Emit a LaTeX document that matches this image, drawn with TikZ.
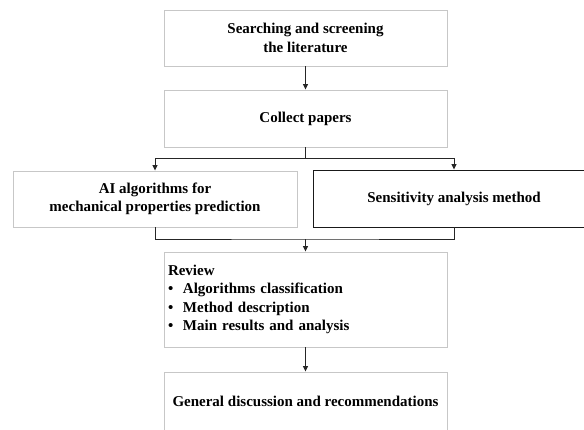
\documentclass[tikz,border=0pt]{standalone}
\usepackage{fontspec}
\setmainfont{Liberation Serif}
\usetikzlibrary{arrows.meta}
\begin{document}
\begin{tikzpicture}[x=1pt,y=-1pt]
    \tikzstyle{every node}+=[font=\fontsize{15}{18.3}\selectfont\bfseries, align=center]
    \tikzstyle{box}=[draw=black!22, line width=0.9pt, minimum width=283pt, minimum height=56pt, inner sep=0pt]
    \tikzstyle{link}=[draw=black!85, line width=0.9pt]
    \tikzstyle{tip}=[-{Triangle[length=5.5pt,width=5pt]}]
    \useasboundingbox (0,0) rectangle (584,429);
    \clip (0,0) rectangle (584,429);
    \node [box] (search) at (305.5,38) {Searching and screening\\the literature};
    \node [box, minimum height=57pt] (collect) at (305.5,118.5) {Collect papers};
    \node [box, minimum width=284pt] (ai) at (155,199) {AI algorithms for\\mechanical properties prediction};
    \node [box, draw=black!90, minimum width=282pt, minimum height=57pt] (sens) at (454,198.5) {Sensitivity analysis method};
    \node [box, minimum height=95pt, text width=275pt, inner xsep=4pt, align=left] (review) at (305.5,299.5)
        {Review\\\makebox[15pt][l]{\textbullet}Algorithms classification\\\makebox[15pt][l]{\textbullet}Method description\\\makebox[15pt][l]{\textbullet}Main results and analysis};
    \node [box, minimum height=58pt] (general) at (305.5,401) {General discussion and recommendations};
    \coordinate (split) at (305.5,158);
    \coordinate (merge) at (305.5,239);
    \draw [link, tip] (search) -- (collect);
    \draw [link] (collect) -- (split);
    \draw [link, tip] (split) -| (ai);
    \draw [link, tip] (split) -| (sens);
    \draw [link] (ai) |- (merge) -| (sens);
    \draw [link, tip] (merge) -- (review);
    \draw [link, tip] (review) -- (general);
\end{tikzpicture}
\end{document}
